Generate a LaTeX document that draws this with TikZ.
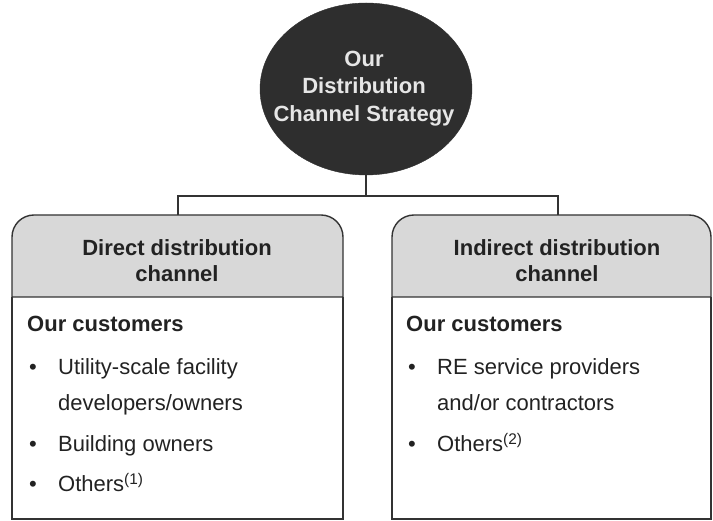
\documentclass[tikz,border=0pt]{standalone}
\usepackage{fontspec}
\setmainfont{Liberation Sans}
\usetikzlibrary{shapes.geometric}
\definecolor{darkfill}{HTML}{2E2E2E}
\definecolor{lighttext}{HTML}{E6E6E6}
\definecolor{hdrfill}{HTML}{D8D8D8}
\definecolor{linec}{HTML}{333333}
\definecolor{txt}{HTML}{222222}
\tikzset{
  bigtxt/.style={font=\fontsize{22}{27.5}\selectfont, text=txt, inner sep=0pt},
  hdrtxt/.style={bigtxt, font=\fontsize{22}{27.5}\selectfont\bfseries, align=center},
  itemtxt/.style={bigtxt, anchor=base west},
  bul/.style={bigtxt, anchor=base west},
  boxline/.style={draw=linec, line width=1.4pt},
  conn/.style={draw=linec, line width=1.4pt},
}
\begin{document}
\begin{tikzpicture}[x=1pt,y=1pt]
\useasboundingbox (0,0) rectangle (713,521);
% central ellipse
\node[ellipse, fill=darkfill, draw=darkfill, minimum width=212, minimum height=172, inner sep=0] (top) at (366,432) {};
\node[hdrtxt, text=lighttext, anchor=base] (t1) at (364,454) {Our};
\node[hdrtxt, text=lighttext, anchor=base] (t2) at (364,427) {Distribution};
\node[hdrtxt, text=lighttext, anchor=base] (t3) at (364,399) {Channel Strategy};

% left box
\draw[boxline, fill=hdrfill] (12,224) -- (12,284) arc[start angle=180, end angle=90, radius=22] -- (321,306) arc[start angle=90, end angle=0, radius=22] -- (343,224) -- cycle;
\draw[boxline] (12,224) -- (12,2) -- (343,2) -- (343,224);
\coordinate (lTop) at (178,306);
\node[hdrtxt, anchor=base] (lh1) at (177,265) {Direct distribution};
\node[hdrtxt, anchor=base] (lh2) at (177,239) {channel};
\node[hdrtxt, anchor=base west] (lc) at (27,189) {Our customers};
\node[bul] (lb1) at (29,146) {•};
\node[itemtxt] (li1) at (58,146) {Utility-scale facility};
\node[itemtxt] (li1b) at (58,110) {developers/owners};
\node[bul] (lb2) at (29,69) {•};
\node[itemtxt] (li2) at (58,69) {Building owners};
\node[bul] (lb3) at (29,29) {•};
\node[itemtxt] (li3) at (58,29) {Others\textsuperscript{(1)}};

% right box
\draw[boxline, fill=hdrfill] (392,224) -- (392,284) arc[start angle=180, end angle=90, radius=22] -- (689,306) arc[start angle=90, end angle=0, radius=22] -- (711,224) -- cycle;
\draw[boxline] (392,224) -- (392,2) -- (711,2) -- (711,224);
\coordinate (rTop) at (558,306);
\node[hdrtxt, anchor=base] (rh1) at (557,265) {Indirect distribution};
\node[hdrtxt, anchor=base] (rh2) at (557,239) {channel};
\node[hdrtxt, anchor=base west] (rc) at (406,189) {Our customers};
\node[bul] (rb1) at (408,146) {•};
\node[itemtxt] (ri1) at (437,146) {RE service providers};
\node[itemtxt] (ri1b) at (437,110) {and/or contractors};
\node[bul] (rb2) at (408,69) {•};
\node[itemtxt] (ri2) at (437,69) {Others\textsuperscript{(2)}};

% connectors
\coordinate (j) at (top.south |- 0,325);
\draw[conn] (top.south) -- (j);
\draw[conn] (lTop) |- (j) -| (rTop);
\end{tikzpicture}
\end{document}
